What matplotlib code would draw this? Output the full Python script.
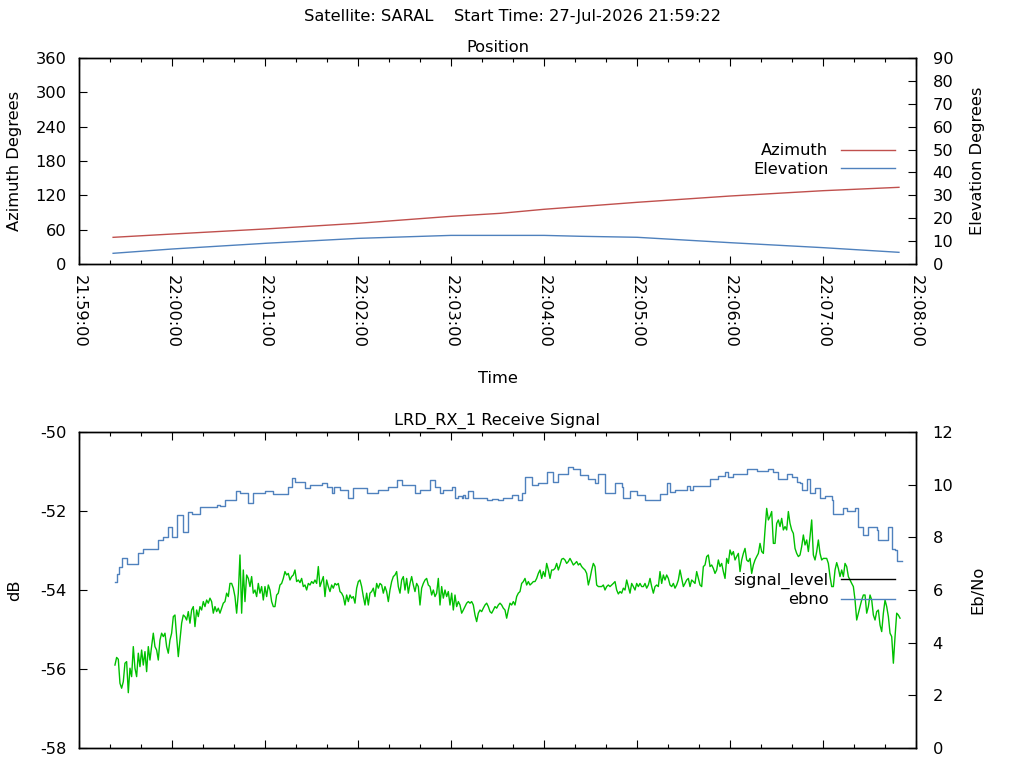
import numpy as np
import matplotlib
matplotlib.use("Agg")
import matplotlib.pyplot as plt
from matplotlib.lines import Line2D
from matplotlib.ticker import MultipleLocator, FuncFormatter

# times are seconds after 21:59:00
az_t = [22, 57, 120, 180, 240, 272, 300, 360, 420, 480, 529]
azimuth = [46.6, 51.9, 61.2, 71.1, 83.3, 88.6, 95.6, 107.8, 118.8, 128.1, 134.0]

el_t = [22, 60, 120, 180, 240, 272, 300, 324, 360, 420, 480, 529]
elevation = [4.67, 6.55, 9.03, 11.2, 12.5, 12.5, 12.5, 12.1, 11.67, 9.32, 7.14, 5.1]

sig_t = [23.2, 24.3, 26.0, 27.5, 30.8, 38.3, 41.5, 51.2, 54.4, 57.6, 59.8, 63.0,
         67.3, 70.5, 72.7, 78.1, 88.8, 91.0, 94.2, 101.1, 103.9, 109.2, 112.5,
         120.0, 125.4, 134.6, 137.2, 139.4, 145.8, 149.0, 156.6, 159.8, 163.0,
         164.5, 168.4, 173.8, 177.0, 185.6, 193.1, 199.6, 205.4, 208.2, 216.8,
         220.0, 226.5, 229.7, 232.9, 235.1, 240.4, 242.6, 244.7, 246.9, 248.0,
         249.1, 251.2, 254.4, 263.0, 266.3, 270.6, 273.8, 279.2, 283.5, 285.6,
         287.8, 292.1, 296.4, 301.7, 306.0, 309.3, 315.7, 319.0, 323.3, 328.6,
         332.9, 335.1, 339.4, 345.8, 350.1, 351.2, 355.5, 359.8, 365.2, 374.9,
         379.2, 381.3, 384.6, 392.1, 394.2, 396.4, 407.1, 412.5, 416.8, 419.0,
         422.2, 430.8, 437.3, 444.8, 447.9, 451.2, 456.6, 459.8, 463.0, 465.2,
         466.3, 469.5, 471.6, 474.9, 478.1, 481.3, 485.6, 486.7, 493.1, 495.3,
         500.7, 502.8, 506.0, 509.3, 514.6, 515.7, 522.2, 524.3, 526.5, 527.5,
         530.8]
sig_db = [-53.81, -53.59, -53.41, -53.20, -53.34, -53.07, -52.95, -52.73, -52.65,
          -52.41, -52.65, -52.10, -52.52, -52.02, -52.08, -51.91, -51.85, -51.88,
          -51.72, -51.49, -51.55, -51.79, -51.55, -51.49, -51.57, -51.38, -51.17,
          -51.26, -51.43, -51.34, -51.28, -51.38, -51.54, -51.38, -51.47, -51.66,
          -51.43, -51.54, -51.47, -51.38, -51.22, -51.34, -51.54, -51.47, -51.22,
          -51.38, -51.55, -51.47, -51.40, -51.68, -51.62, -51.68, -51.59, -51.68,
          -51.49, -51.68, -51.72, -51.70, -51.72, -51.68, -51.59, -51.72, -51.55,
          -51.15, -51.34, -51.28, -51.00, -51.27, -51.06, -50.88, -50.94, -51.09,
          -51.20, -51.28, -51.07, -51.55, -51.28, -51.40, -51.68, -51.49, -51.59,
          -51.72, -51.57, -51.28, -51.51, -51.47, -51.36, -51.47, -51.36, -51.20,
          -51.11, -51.00, -51.13, -51.07, -50.94, -50.99, -50.94, -51.00, -51.20,
          -51.07, -51.15, -51.26, -51.30, -51.47, -51.20, -51.54, -51.41, -51.68,
          -51.62, -51.72, -52.08, -51.93, -51.99, -51.93, -52.40, -52.61, -52.41,
          -52.48, -52.73, -52.41, -52.95, -52.99, -53.27, -53.27]

ebno = [3.15, 3.44, 3.37, 2.46, 2.27, 2.52, 3.22, 3.28, 2.10, 3.03, 2.71, 3.85, 3.03,
        2.71, 3.60, 3.09, 3.72, 3.15, 3.66, 2.90, 3.85, 3.34, 3.87, 4.36, 3.85, 3.72,
        3.34, 4.10, 4.36, 4.23, 4.36, 3.85, 3.60, 4.10, 4.36, 4.99, 5.05, 4.23, 3.47,
        4.10, 4.74, 5.05, 4.99, 4.86, 5.18, 4.74, 5.24, 5.37, 4.61, 5.24, 4.99, 5.37,
        5.24, 5.56, 5.37, 5.62, 5.50, 5.69, 5.56, 5.12, 5.37, 5.18, 5.31, 5.12, 5.31,
        5.50, 5.56, 5.88, 5.75, 6.25, 6.25, 6.07, 5.75, 5.12, 5.88, 7.33, 5.12, 6.76,
        5.56, 6.57, 6.44, 6.13, 6.51, 5.88, 6.00, 5.75, 6.25, 5.88, 6.13, 5.62, 6.13,
        5.75, 6.19, 6.00, 5.56, 5.37, 5.37, 5.81, 5.88, 6.19, 6.25, 6.44, 6.70, 6.57,
        6.63, 6.38, 6.51, 6.57, 6.76, 6.32, 6.38, 6.28, 6.44, 6.13, 6.19, 6.00, 6.25,
        6.19, 6.32, 6.25, 6.38, 6.25, 6.89, 6.13, 6.32, 6.51, 5.75, 6.38, 6.13, 5.94,
        6.19, 6.07, 6.25, 6.19, 6.25, 5.94, 5.88, 5.75, 5.43, 5.81, 5.56, 5.81, 5.69,
        5.75, 5.50, 6.07, 6.32, 6.38, 6.13, 5.75, 5.43, 5.88, 5.43, 5.88, 5.94, 6.07,
        5.75, 6.25, 6.07, 6.25, 6.19, 5.88, 6.13, 5.94, 5.56, 6.00, 6.32, 6.51, 6.57,
        6.70, 6.13, 5.88, 6.38, 6.51, 6.00, 6.44, 5.88, 6.25, 6.51, 6.19, 5.94, 6.25,
        6.13, 5.43, 6.07, 6.25, 6.38, 6.44, 6.19, 6.13, 5.81, 6.00, 5.75, 5.88, 6.44,
        5.43, 6.13, 5.69, 6.00, 5.75, 5.94, 5.43, 5.88, 5.24, 5.81, 5.37, 5.56,
        # middle part
        5.43, 5.12, 5.24, 5.37, 5.50, 5.56, 5.50, 5.56, 5.43, 5.05, 4.80, 5.12, 5.24,
        5.18, 5.31, 5.43, 5.50, 5.37, 5.18, 5.12, 5.24, 5.37, 5.31, 5.43, 5.50, 5.43,
        5.31, 5.24, 4.93, 5.24, 5.50, 5.43, 5.56, 5.43, 5.75, 5.88, 5.94, 6.25, 6.32,
        6.44, 6.19, 6.32, 6.19, 6.25, 6.32, 6.32, 6.44, 6.63, 6.76, 6.44, 6.70, 6.51,
        7.01, 6.76, 6.44, 6.76, 6.76, 6.82, 7.01, 6.76, 6.95, 7.17, 7.20, 7.14, 7.01,
        7.08, 7.20, 7.08, 6.95, 7.01, 7.08, 6.95, 7.01, 6.89, 6.82, 6.76, 6.63, 6.19,
        6.44, 6.76, 7.01, 6.89, 6.19, 6.13, 6.13, 6.13, 6.19, 6.00, 6.13, 6.19, 6.13,
        6.19, 6.25, 6.32, 6.00, 5.85, 5.94, 5.88, 6.07, 6.00, 6.38, 6.13, 5.88, 6.25,
        6.13, 6.00, 6.25, 6.13, 6.25, 6.13, 6.13, 6.25, 6.07, 6.19, 6.44, 6.13, 5.88,
        6.13, 6.19, 6.13, 6.70, 6.25, 6.57, 6.38, 6.57, 6.44, 6.19, 6.13, 6.25, 6.07,
        6.19, 6.38, 6.76, 6.44, 6.13, 6.25, 6.38, 6.44, 6.13, 6.38, 6.32, 6.25, 6.70,
        6.44, 6.19, 6.13, 6.89, 6.95, 7.27, 7.33, 6.89, 6.95, 6.82, 6.63, 6.76, 7.14,
        6.89, 7.01, 6.70, 6.44, 7.20, 7.01, 7.52, 7.33, 7.46, 7.14, 7.27, 7.39, 6.70,
        7.14, 7.39, 7.58, 7.14, 7.08, 7.20, 6.63, 6.95, 7.14, 7.27, 7.39,
        # end part
        7.77, 7.46, 7.39, 8.28, 9.10, 8.66, 8.79, 8.98, 7.77, 7.77, 8.53, 8.66, 8.41,
        8.72, 8.28, 8.41, 8.28, 8.98, 8.53, 8.28, 8.15, 7.58, 7.39, 7.27, 7.33, 7.65,
        8.09, 7.71, 7.90, 7.46, 8.03, 8.66, 7.33, 7.14, 7.46, 7.90, 7.39, 7.14, 7.20,
        7.20, 7.20, 7.01, 6.51, 6.13, 6.13, 6.76, 7.04, 6.82, 6.51, 6.76, 6.51, 7.01,
        6.89, 6.51, 6.38, 6.25, 6.13, 5.62, 4.86, 5.12, 5.37, 5.62, 5.81, 5.81, 5.12,
        5.37, 5.81, 5.62, 5.05, 4.86, 5.18, 5.24, 4.67, 4.42, 5.12, 5.62, 5.37, 4.99,
        4.36, 4.23, 3.22, 4.23, 5.12, 5.05, 4.93]
ebno_t = np.linspace(23.2, 529.7, len(ebno))

RED = "#c0504d"
BLUE = "#4f81bd"
GREEN = "#00c000"


def hms(x, pos=None):
    s = int(round(x)) + 21 * 3600 + 59 * 60
    return "%02d:%02d:%02d" % (s // 3600, (s // 60) % 60, s % 60)


plt.rcParams["font.family"] = ["DejaVu Sans"]
plt.rcParams["font.size"] = 11.7
plt.rcParams["axes.unicode_minus"] = False

fig = plt.figure(figsize=(10.24, 7.68), dpi=100)
fig.text(0.5, 1 - 17 / 768, "Satellite: SARAL    Start Time: 27-Jul-2026 21:59:22",
         ha="center", va="center", fontsize=11.7)

ax1 = fig.add_axes([79 / 1024, 1 - 264 / 768, 837 / 1024, 206 / 768])
ax1r = ax1.twinx()
ax2 = fig.add_axes([79 / 1024, 1 - 748 / 768, 837 / 1024, 316 / 768])
ax2r = ax2.twinx()

ax1.plot(az_t, azimuth, color=RED, lw=1.0)
ax1r.plot(el_t, elevation, color=BLUE, lw=1.0)

ax2.plot(sig_t, sig_db, color=BLUE, lw=1.0, drawstyle="steps-post")
ax2r.plot(ebno_t, ebno, color=GREEN, lw=1.0)

for ax in (ax1, ax2):
    ax.set_xlim(0, 540)
    ax.xaxis.set_major_locator(MultipleLocator(60))
    ax.xaxis.set_minor_locator(MultipleLocator(20))
    ax.tick_params(axis="x", which="both", direction="in", top=True, bottom=True)
    ax.tick_params(axis="x", which="major", length=6, width=0.8)
    ax.tick_params(axis="x", which="minor", length=3, width=0.8)
    ax.tick_params(axis="y", direction="in", length=6, width=0.8, pad=9, right=False)
    for sp in ax.spines.values():
        sp.set_linewidth(1.0)

for ax in (ax1r, ax2r):
    ax.tick_params(axis="y", direction="in", length=6, width=0.8, pad=12)
    for sp in ax.spines.values():
        sp.set_linewidth(1.0)

ax1.xaxis.set_major_formatter(FuncFormatter(hms))
ax1.tick_params(axis="x", which="major", pad=8)
plt.setp(ax1.get_xticklabels(), rotation=-90, ha="center", va="top")
ax2.set_xticklabels([])

ax1.set_ylim(0, 360)
ax1.set_yticks(np.arange(0, 361, 60))
ax1r.set_ylim(0, 90)
ax1r.set_yticks(np.arange(0, 91, 10))

ax2.set_ylim(-58, -50)
ax2.set_yticks(np.arange(-58, -49, 2))
ax2r.set_ylim(0, 12)
ax2r.set_yticks(np.arange(0, 13, 2))

ax1.set_title("Position", fontsize=11.7, pad=4)
ax2.set_title("LRD_RX_1 Receive Signal", fontsize=11.7, pad=5)

ax1.set_ylabel("Azimuth Degrees")
ax1.yaxis.set_label_coords((22 - 79) / 837, 0.5)
ax1r.set_ylabel("Elevation Degrees")
ax1r.yaxis.set_label_coords((970 - 79) / 837, 0.5)
ax1.set_xlabel("Time")
ax1.xaxis.set_label_coords(0.5, (264 - 371) / 206)

ax2.set_ylabel("dB")
ax2.yaxis.set_label_coords((22 - 79) / 837, 0.5)
ax2r.set_ylabel("Eb/No")
ax2r.yaxis.set_label_coords((970 - 79) / 837, 0.5)

leg_kw = dict(frameon=False, markerfirst=False, handlelength=3.3, labelspacing=0.2,
              handletextpad=0.8, borderaxespad=0, borderpad=0, loc="center right")
h1 = [Line2D([], [], color=RED, lw=1.0), Line2D([], [], color=BLUE, lw=1.0)]
ax1r.legend(h1, ["Azimuth", "Elevation"], bbox_to_anchor=(0.975, 0.505), **leg_kw)
h2 = [Line2D([], [], color="black", lw=1.0), Line2D([], [], color=BLUE, lw=1.0)]
ax2r.legend(h2, ["signal_level", "ebno"], bbox_to_anchor=(0.975, 0.50), **leg_kw)

fig.savefig("out.png", dpi=100)
